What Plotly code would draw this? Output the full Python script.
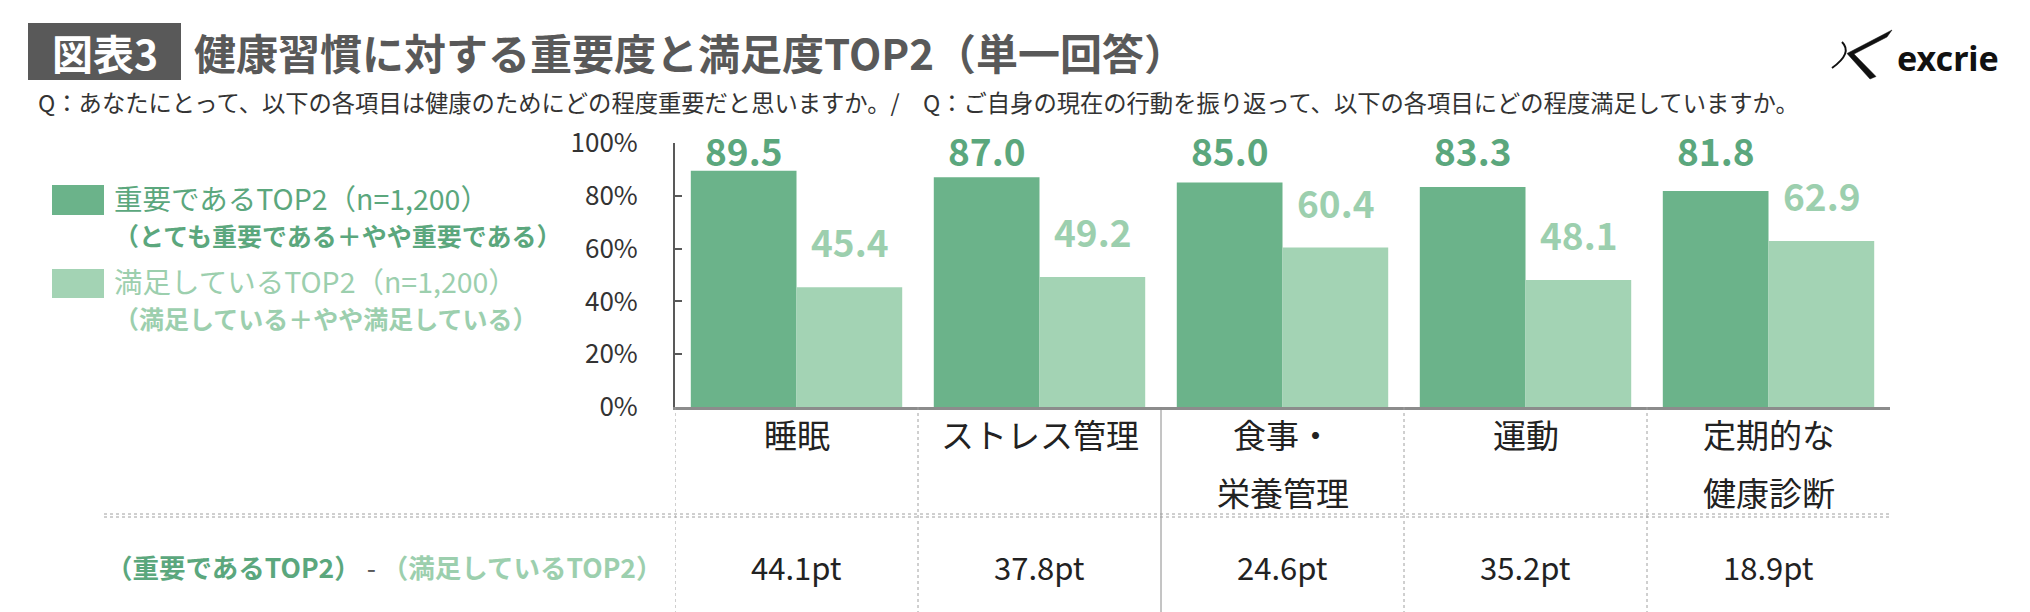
import plotly.graph_objects as go

# ---- data ----
categories = ["睡眠", "ストレス管理", "食事・栄養管理", "運動", "定期的な健康診断"]
category_lines = [["睡眠"], ["ストレス管理"], ["食事・", "栄養管理"], ["運動"], ["定期的な", "健康診断"]]
important_top2 = [89.5, 87.0, 85.0, 83.3, 81.8]
satisfied_top2 = [45.4, 49.2, 60.4, 48.1, 62.9]
gap_pt = [44.1, 37.8, 24.6, 35.2, 18.9]
y_ticks = [0, 20, 40, 60, 80, 100]
y_tick_labels = ["0%", "20%", "40%", "60%", "80%", "100%"]

title_tag = "図表3"
title_text = "健康習慣に対する重要度と満足度TOP2（単一回答）"
subtitle_text = "Q：あなたにとって、以下の各項目は健康のためにどの程度重要だと思いますか。/　Q：ご自身の現在の行動を振り返って、以下の各項目にどの程度満足していますか。"
legend_main = ["重要であるTOP2（n=1,200）", "満足しているTOP2（n=1,200）"]
legend_sub = ["（とても重要である＋やや重要である）", "（満足している＋やや満足している）"]
diff_label_a = "（重要であるTOP2）"
diff_label_b = "（満足しているTOP2）"

# ---- style ----
W, H = 2030, 612
L, R, T, B = 675, 1890, 143, 407
DARK = "#6bb38a"
LIGHT = "#a3d3b4"
DARK_TXT = "#5ba77d"
LIGHT_TXT = "#9ccfae"
GRAY = "#595959"
FONT = "Noto Sans CJK JP"


def PX(x):
    return (x - L) / (R - L)


def PY(y):
    return (B - y) / (B - T)


fig = go.Figure()
fig.add_trace(go.Bar(x=categories, y=important_top2, name=legend_main[0],
                     marker=dict(color=DARK, line=dict(width=0))))
fig.add_trace(go.Bar(x=categories, y=satisfied_top2, name=legend_main[1],
                     marker=dict(color=LIGHT, line=dict(width=0))))

ann = []
shapes = []

# bar value labels
for i, c in enumerate(categories):
    ann.append(dict(x=c, y=100, xref="x", yref="y", xshift=-53, yshift=-7,
                    text=f"<b>{important_top2[i]:.1f}</b>", showarrow=False,
                    yanchor="middle", xanchor="center",
                    font=dict(family=FONT, size=37, color=DARK_TXT)))
    ann.append(dict(x=c, y=satisfied_top2[i], xref="x", yref="y", xshift=53, yshift=46,
                    text=f"<b>{satisfied_top2[i]:.1f}</b>", showarrow=False,
                    yanchor="middle", xanchor="center",
                    font=dict(family=FONT, size=37, color=LIGHT_TXT)))
    # category labels
    line_y = [434, 492]
    for j, ln in enumerate(category_lines[i]):
        ann.append(dict(x=c, y=PY(line_y[j]), xref="x", yref="paper", text=ln,
                        showarrow=False, yanchor="middle", xanchor="center",
                        font=dict(family=FONT, size=33, color="#222222")))
    # difference values
    ann.append(dict(x=c, y=PY(566), xref="x", yref="paper", text=f"{gap_pt[i]:.1f}pt",
                    showarrow=False, yanchor="middle", xanchor="center",
                    font=dict(family=FONT, size=31, color="#222222")))

# category boundary lines
for i in range(len(categories)):
    b = i - 0.5
    solid = (i == 2)
    shapes.append(dict(type="line", xref="x", yref="paper", x0=b, x1=b,
                       y0=0, y1=PY(H),
                       line=dict(color="#8a8a8a" if solid else "#a0a0a0", width=1,
                                 dash="solid" if solid else "dot")))

# horizontal separator (double dotted)
for yy in (514, 517):
    shapes.append(dict(type="line", xref="paper", yref="paper", x0=PX(104), x1=PX(1890),
                       y0=PY(yy), y1=PY(yy), line=dict(color="#a0a0a0", width=1, dash="dot")))

# difference row label
ann.append(dict(x=PX(104), y=PY(566), xref="paper", yref="paper", showarrow=False,
                xanchor="left", yanchor="middle",
                text=f"<b><span style='color:{DARK_TXT}'>{diff_label_a}</span></b>"
                     f"<span style='color:{GRAY}'> - </span>"
                     f"<b><span style='color:{LIGHT_TXT}'>{diff_label_b}</span></b>",
                font=dict(family=FONT, size=26.5)))

# title block
shapes.append(dict(type="rect", xref="paper", yref="paper", x0=PX(28), x1=PX(181),
                   y0=PY(80), y1=PY(23), fillcolor=GRAY, line=dict(width=0), layer="above"))
ann.append(dict(x=PX(104.5), y=PY(52), xref="paper", yref="paper", text=f"<b>{title_tag}</b>",
                showarrow=False, xanchor="center", yanchor="middle",
                font=dict(family=FONT, size=41, color="white")))
ann.append(dict(x=PX(192), y=PY(51), xref="paper", yref="paper", text=f"<b>{title_text}</b>",
                showarrow=False, xanchor="left", yanchor="middle",
                font=dict(family=FONT, size=42, color=GRAY)))
ann.append(dict(x=PX(36), y=PY(102), xref="paper", yref="paper", text=subtitle_text,
                showarrow=False, xanchor="left", yanchor="middle",
                font=dict(family=FONT, size=23.3, color="#333333")))

# logo
ann.append(dict(x=PX(1895), y=PY(58), xref="paper", yref="paper", text="<b>excrie</b>",
                showarrow=False, xanchor="left", yanchor="middle",
                font=dict(family="Noto Sans", size=34, color="#111111")))
logo_pts = [(1892, 30), (1847, 53.5), (1870, 79), (1876, 76.5), (1854, 54), (1887, 37)]
path = "M " + " L ".join(f"{PX(a):.5f},{PY(b):.5f}" for a, b in logo_pts) + " Z"
shapes.append(dict(type="path", xref="paper", yref="paper", path=path,
                   fillcolor="#111111", line=dict(color="#111111", width=0.5)))
swoosh = f"M {PX(1842):.5f},{PY(42):.5f} Q {PX(1853):.5f},{PY(53):.5f} {PX(1832):.5f},{PY(68):.5f}"
shapes.append(dict(type="path", xref="paper", yref="paper", path=swoosh,
                   line=dict(color="#111111", width=2)))

# custom legend
leg_y = [(185, 215), (269, 298)]
leg_text_y = [(197, 235), (280, 318)]
leg_cols = [DARK, LIGHT]
leg_txt = [DARK_TXT, LIGHT_TXT]
for k in range(2):
    y0, y1 = leg_y[k]
    shapes.append(dict(type="rect", xref="paper", yref="paper", x0=PX(52), x1=PX(104),
                       y0=PY(y1), y1=PY(y0), fillcolor=leg_cols[k], line=dict(width=0)))
    ann.append(dict(x=PX(112), y=PY(leg_text_y[k][0]), xref="paper", yref="paper",
                    text=legend_main[k], showarrow=False, xanchor="left", yanchor="middle",
                    font=dict(family=FONT, size=28.5, color=leg_txt[k])))
    ann.append(dict(x=PX(112), y=PY(leg_text_y[k][1]), xref="paper", yref="paper",
                    text=f"<b>{legend_sub[k]}</b>", showarrow=False, xanchor="left",
                    yanchor="middle", font=dict(family=FONT, size=25, color=leg_txt[k])))

fig.update_layout(
    width=W, height=H,
    margin=dict(l=L, r=W - R, t=T, b=H - B, pad=0),
    paper_bgcolor="white", plot_bgcolor="white",
    barmode="group", bargap=0.13, bargroupgap=0,
    showlegend=False,
    annotations=ann, shapes=shapes,
    font=dict(family=FONT),
)
fig.update_xaxes(range=[-0.5, len(categories) - 0.5], showticklabels=False, ticks="",
                 showline=True, linecolor="#8c8c8c", linewidth=3, showgrid=False,
                 zeroline=False, fixedrange=True)
fig.update_yaxes(range=[0, 100], tickvals=y_ticks, ticktext=y_tick_labels, ticks="inside",
                 ticklen=7, tickcolor=GRAY, tickwidth=1.5, showline=True, linecolor=GRAY,
                 linewidth=2, showgrid=False, zeroline=False,
                 tickfont=dict(family=FONT, size=26, color="#333333"),
                 ticklabelstandoff=30, fixedrange=True)

fig.write_html("out.html", config=dict(displayModeBar=False),
               post_script="document.body.style.margin='0';document.body.style.overflow='hidden';")
